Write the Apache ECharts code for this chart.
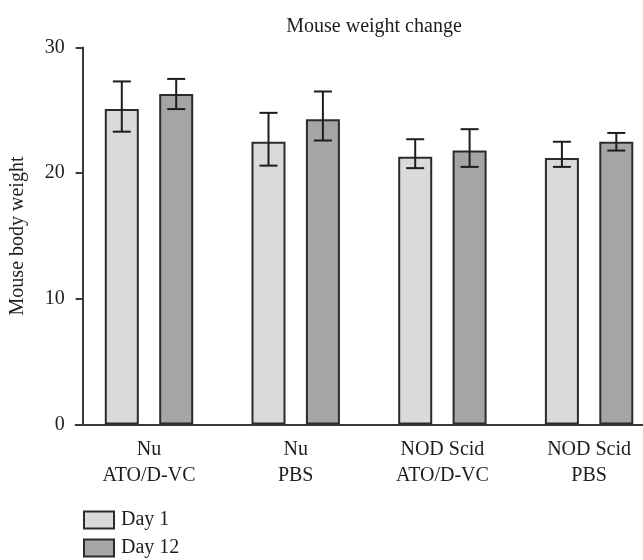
<!DOCTYPE html>
<html>
<head>
<meta charset="utf-8">
<script src="https://cdn.jsdelivr.net/npm/echarts@6/dist/echarts.min.js"></script>
<style>html,body{margin:0;padding:0;background:#fff;}#c{width:643px;height:560px;}</style>
</head>
<body>
<div id="c"></div>
<script>
const categories = ['Nu\nATO/D-VC', 'Nu\nPBS', 'NOD Scid\nATO/D-VC', 'NOD Scid\nPBS'];
const seriesNames = ['Day 1', 'Day 12'];
const day1 = [25.1, 22.5, 21.3, 21.2];
const day12 = [26.3, 24.3, 21.8, 22.5];
const day1Low = [23.3, 20.6, 20.4, 20.5];
const day1High = [27.3, 24.8, 22.7, 22.5];
const day12Low = [25.1, 22.6, 20.5, 21.8];
const day12High = [27.5, 26.5, 23.5, 23.2];
const yTicks = [0, 10, 20, 30];

const FONT = '"Liberation Serif", "DejaVu Serif", serif';
const TXT = '#1f1c1d';
const BAR_W = 34;
const BAR_GAP = 0.6;

function errSeries(low, high, sign) {
  return {
    type: 'custom',
    silent: true,
    z: 5,
    data: categories.map((c, i) => [i, low[i], high[i]]),
    renderItem: function (params, api) {
      const i = api.value(0);
      const lo = api.coord([i, api.value(1)]);
      const hi = api.coord([i, api.value(2)]);
      const off = sign * (BAR_W / 2 + BAR_W * BAR_GAP / 2);
      const x = lo[0] + off;
      const cap = 9;
      const st = { stroke: TXT, lineWidth: 2 };
      return {
        type: 'group',
        children: [
          { type: 'line', shape: { x1: x, y1: lo[1], x2: x, y2: hi[1] }, style: st },
          { type: 'line', shape: { x1: x - cap, y1: hi[1], x2: x + cap, y2: hi[1] }, style: st },
          { type: 'line', shape: { x1: x - cap, y1: lo[1], x2: x + cap, y2: lo[1] }, style: st }
        ]
      };
    }
  };
}

function legendFor(name, top) {
  return {
    orient: 'vertical', left: 83, top: top, padding: 0,
    itemWidth: 30, itemHeight: 17, itemGap: 10,
    icon: 'rect',
    data: [name],
    textStyle: { fontFamily: FONT, fontSize: 20, color: TXT, padding: [0, 0, 0, 2] }
  };
}

const chart = echarts.init(document.getElementById('c'), null, { renderer: 'canvas' });
chart.setOption({
  animation: false,
  backgroundColor: '#fff',
  textStyle: { fontFamily: FONT, color: TXT },
  title: {
    text: 'Mouse weight change',
    left: 369, top: 12, textAlign: 'center',
    textStyle: { fontFamily: FONT, fontSize: 20, fontWeight: 'normal', color: TXT }
  },
  legend: [legendFor(seriesNames[0], 510), legendFor(seriesNames[1], 538)],
  grid: { left: 75.65, top: 47.5, width: 586.8, height: 377, containLabel: false, outerBoundsMode: 'none' },
  xAxis: {
    type: 'category',
    data: categories,
    axisLine: { lineStyle: { color: '#3a3a3a', width: 2 } },
    axisTick: { alignWithLabel: true, length: 6, lineStyle: { color: '#3a3a3a', width: 2 } },
    axisLabel: { fontFamily: FONT, fontSize: 20, color: TXT, margin: 12, lineHeight: 26 }
  },
  yAxis: {
    type: 'value', min: yTicks[0], max: yTicks[yTicks.length - 1], interval: 10,
    offset: -7,
    name: 'Mouse body weight', nameLocation: 'middle', nameRotate: 90, nameGap: 55,
    nameTextStyle: { fontFamily: FONT, fontSize: 20, color: TXT },
    axisLine: { show: true, lineStyle: { color: '#3a3a3a', width: 2 } },
    axisTick: { show: true, length: 7, lineStyle: { color: '#3a3a3a', width: 2 } },
    axisLabel: { fontFamily: FONT, fontSize: 20, color: TXT, margin: 18 },
    splitLine: { show: false }
  },
  series: [
    {
      name: seriesNames[0], type: 'bar', data: day1, barWidth: BAR_W, barGap: (BAR_GAP * 100) + '%',
      itemStyle: { color: '#dadada', borderColor: '#2b2b2b', borderWidth: 2 }
    },
    {
      name: seriesNames[1], type: 'bar', data: day12, barWidth: BAR_W,
      itemStyle: { color: '#a6a5a6', borderColor: '#2b2b2b', borderWidth: 2 }
    },
    errSeries(day1Low, day1High, -1),
    errSeries(day12Low, day12High, 1)
  ]
});
</script>
</body>
</html>
